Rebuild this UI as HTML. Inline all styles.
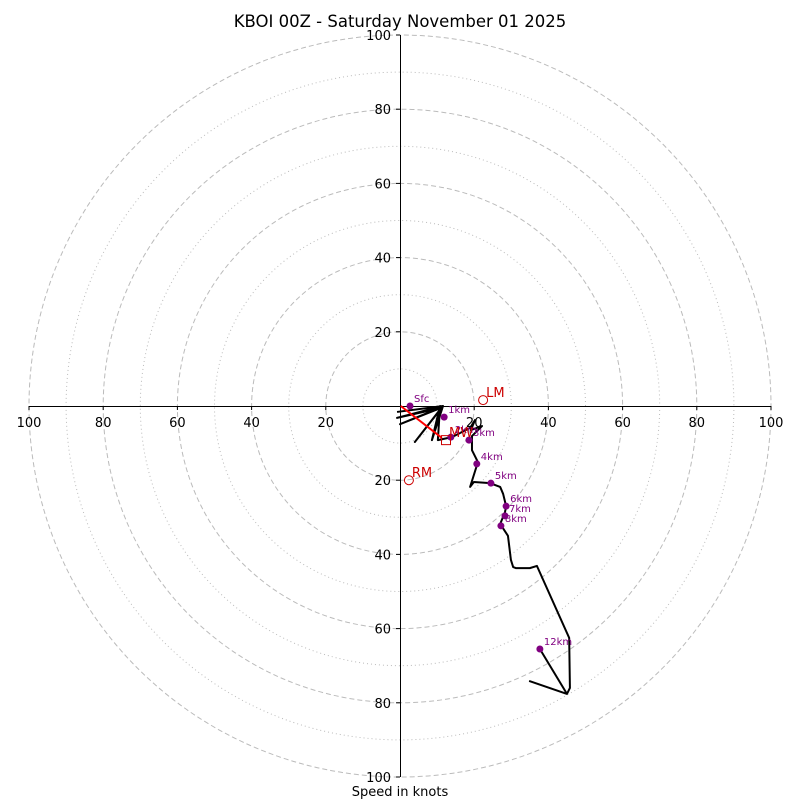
<!DOCTYPE html>
<html><head><meta charset="utf-8">
<style>
body{margin:0;background:#fff;}
svg text{font-family:"DejaVu Sans","Liberation Sans",sans-serif;}
</style></head>
<body>
<svg id="chart" width="800" height="800" viewBox="0 0 800 800" xmlns="http://www.w3.org/2000/svg">
<rect width="800" height="800" fill="#fff"/>
<text x="400" y="27" font-size="16.5" text-anchor="middle">KBOI 00Z - Saturday November 01 2025</text>
<g id="rings"></g>
<g id="axes"></g>
<g id="series"></g>
<text x="400" y="796" font-size="13" text-anchor="middle">Speed in knots</text>
</svg>
<script>
const ringValues=[10,20,30,40,50,60,70,80,90,100];
const tickLabels=[20,40,60,80,100];
const pathU=[-0.8,11.6,-0.8,11.1,0,11.3,4.0,11.6,8.6,10.8,10.2,14.0,18.9,20.2,19.1,22.1,19.4,19.4,21.0,18.9,19.9,24.3,27.0,27.8,28.6,28.3,27.0,29.1,29.9,30.5,31.3,35.0,36.9,45.6,45.8,45.0,34.8];
const pathV=[-1.6,0,-3.2,-0.5,-4.9,-0.3,-9.7,0,-9.2,0,-9.2,-8.4,-5.9,-3.8,-6.5,-5.4,-8.1,-11.9,-15.1,-21.8,-20.5,-20.8,-21.8,-23.7,-27.0,-28.6,-31.8,-35.0,-41.5,-43.4,-43.7,-43.7,-43.1,-62.5,-76.0,-77.6,-74.1];
const levelNames=["Sfc","1km","2km","3km","4km","5km","6km","7km","8km","12km"];
const levelU=[2.7,11.9,13.7,18.6,20.7,24.5,28.6,28.3,27.2,37.7];
const levelV=[0,-3.0,-8.4,-9.2,-15.6,-20.8,-27.0,-29.6,-32.3,-65.5];
const motionNames=["LM","RM","MW"];
const motionU=[22.4,2.4,12.4];
const motionV=[1.6,-20.0,-9.2];
const arrowU=[0.2,11.3];
const arrowV=[0,-8.6];

const NS="http://www.w3.org/2000/svg";
const cx=400,cy=406,k=3.71;
const X=u=>cx+u*k, Y=v=>cy-v*k;
function mk(tag,attrs,parent){const e=document.createElementNS(NS,tag);for(const a in attrs)e.setAttribute(a,attrs[a]);document.getElementById(parent).appendChild(e);return e;}

ringValues.forEach(r=>{
  const c=mk('circle',{cx:cx,cy:cy,r:r*k,fill:'none',stroke:'#bbb','stroke-width':1,'stroke-dasharray':r%20===0?'5,3':'1,3'},'rings');
  
  
});
let l=mk('line',{x1:X(-100),y1:cy+0.5,x2:X(100),y2:cy+0.5,stroke:'#000','stroke-width':1,'shape-rendering':'crispEdges'},'axes');


l=mk('line',{x1:cx+0.5,y1:Y(100),x2:cx+0.5,y2:Y(-100),stroke:'#000','stroke-width':1,'shape-rendering':'crispEdges'},'axes');


tickLabels.forEach(t=>{
  [-1,1].forEach(s=>{
    let tk=mk('line',{x1:X(s*t),y1:cy,x2:X(s*t),y2:cy+4,stroke:'#000'},'axes');
    
    
    let tx=mk('text',{x:X(s*t),y:cy+21,'font-size':13,'text-anchor':'middle'},'axes');
    tx.textContent=t;
    
    
    tk=mk('line',{x1:cx-4,y1:Y(s*t),x2:cx,y2:Y(s*t),stroke:'#000'},'axes');
    
    
    tx=mk('text',{x:cx-9,y:Y(s*t)+5,'font-size':13,'text-anchor':'end'},'axes');
    tx.textContent=t;
    
    
  });
});
let pts=pathU.map((u,i)=>X(u)+','+Y(pathV[i])).join(' ');
let p=mk('polyline',{points:pts,fill:'none',stroke:'#000','stroke-width':2,'stroke-linejoin':'round'},'series');


const last=pathU.length-2;
p=mk('line',{x1:X(pathU[last]),y1:Y(pathV[last]),x2:X(levelU[9]),y2:Y(levelV[9]),stroke:'#000','stroke-width':2},'series');


p=mk('line',{x1:X(arrowU[0]),y1:Y(arrowV[0]),x2:X(arrowU[1]),y2:Y(arrowV[1]),stroke:'red','stroke-width':2},'series');


levelNames.forEach((n,i)=>{
  const d=mk('circle',{cx:X(levelU[i]),cy:Y(levelV[i]),r:3.5,fill:'purple'},'series');
  
  
  const t=mk('text',{x:X(levelU[i])+4,y:Y(levelV[i])-4,'font-size':10,fill:'purple'},'series');
  t.textContent=n;
  
  
});
motionNames.forEach((n,i)=>{
  let m;
  if(n==='MW'){m=mk('rect',{x:X(motionU[i])-4.5,y:Y(motionV[i])-4.5,width:9,height:9,fill:'none',stroke:'#c00','stroke-width':1},'series');}
  else{m=mk('circle',{cx:X(motionU[i]),cy:Y(motionV[i]),r:4.5,fill:'none',stroke:'#c00','stroke-width':1},'series');}
  
  
  const t=mk('text',{x:X(motionU[i])+3,y:Y(motionV[i])-3,'font-size':13,fill:'#c00'},'series');
  t.textContent=n;
  
  
});
</script>
</body></html>
